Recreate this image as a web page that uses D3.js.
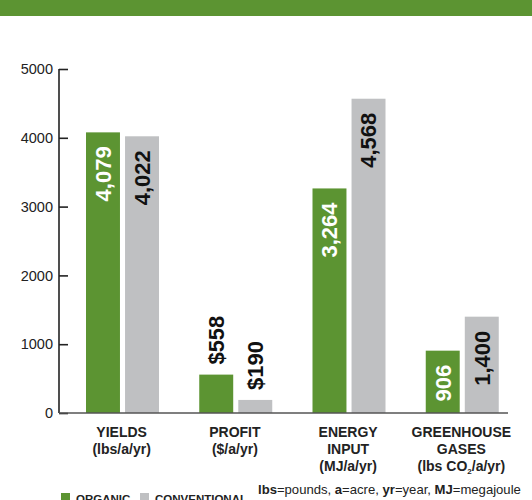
<!DOCTYPE html>
<html>
<head>
<meta charset="utf-8">
<title>Organic vs conventional</title>
<script src="https://d3js.org/d3.v7.min.js"></script>
<style>
  body { margin: 0; background: #fff; }
  svg { display: block; font-family: "Liberation Sans", Arial, sans-serif; }
</style>
</head>
<body>
<div id="chart"></div>
<script>
// data
const categories = ["YIELDS", "PROFIT", "ENERGY", "GREENHOUSE"];
const catLines = [
  ["YIELDS", "(lbs/a/yr)"],
  ["PROFIT", "($/a/yr)"],
  ["ENERGY", "INPUT", "(MJ/a/yr)"],
  ["GREENHOUSE", "GASES", "(lbs CO2/a/yr)"]
];
const series = ["ORGANIC", "CONVENTIONAL"];
const organic = [4079, 558, 3264, 906];
const conventional = [4022, 190, 4568, 1400];
const valueLabels = [
  ["4,079", "4,022"],
  ["$558", "$190"],
  ["3,264", "4,568"],
  ["906", "1,400"]
];
const yTicks = [0, 1000, 2000, 3000, 4000, 5000];

const green = "#5c9432", grey = "#bfc0c2";
const W = 532, H = 500;

const svg = d3.select("#chart").append("svg")
    .attr("width", W).attr("height", H);

// green band on top
svg.append("rect").attr("x", 0).attr("y", 0).attr("width", W).attr("height", 16).attr("fill", green);

const y = d3.scaleLinear().domain([0, 5000]).range([413, 69]);
const x0 = d3.scaleBand().domain(categories).range([66, 519]).padding(0);
const x1 = d3.scaleBand().domain(series).range([20, 93]).paddingInner(0.13);
const colour = d3.scaleOrdinal().domain(series).range([green, grey]);

const rows = categories.map((c, i) => ({
  cat: c,
  vals: [
    {s: "ORGANIC", v: organic[i], lab: valueLabels[i][0]},
    {s: "CONVENTIONAL", v: conventional[i], lab: valueLabels[i][1]}
  ]
}));

// bars
const grp = svg.selectAll("g.cat").data(rows).enter().append("g")
    .attr("class", "cat")
    .attr("transform", d => "translate(" + x0(d.cat) + ",0)");

grp.selectAll("rect").data(d => d.vals).enter().append("rect")
    .attr("x", d => x1(d.s))
    .attr("y", d => y(d.v))
    .attr("width", x1.bandwidth())
    .attr("height", d => y(0) - y(d.v))
    .attr("fill", d => colour(d.s));

// rotated value labels
grp.selectAll("text.val").data(d => d.vals).enter().append("text")
    .attr("class", "val")
    .attr("transform", d => {
      const cx = x1(d.s) + x1.bandwidth() / 2;
      const inside = d.v > 700;
      const ty = inside ? y(d.v) + 14 : y(d.v) - 10;
      return "translate(" + cx + "," + ty + ") rotate(-90)";
    })
    .attr("dy", "0.36em")
    .attr("text-anchor", d => d.v > 700 ? "end" : "start")
    .attr("font-size", "22px")
    .attr("font-weight", "bold")
    .attr("fill", d => (d.v > 700 && d.s === "ORGANIC") ? "#fff" : "#111")
    .text(d => d.lab);

// y axis
const yAxis = d3.axisRight(y).tickValues(yTicks).tickSize(9).tickFormat(d3.format("d"));
const ya = svg.append("g").attr("transform", "translate(59,0)").call(yAxis);
ya.select(".domain").attr("d", "M0," + y(5000) + "V" + y(0)).attr("stroke", "#222").attr("stroke-width", 1.6);
ya.selectAll(".tick line").attr("stroke", "#222").attr("stroke-width", 1.6);
ya.selectAll(".tick text")
    .attr("x", -6).attr("text-anchor", "end")
    .attr("font-family", "'Liberation Sans', Arial, sans-serif")
    .attr("font-size", "14.5px").attr("fill", "#222");

// baseline
svg.append("line").attr("x1", 59).attr("x2", 508).attr("y1", y(0)).attr("y2", y(0))
    .attr("stroke", "#555").attr("stroke-width", 1.4);

// category labels
const catText = svg.selectAll("text.cat").data(catLines).enter().append("text")
    .attr("class", "cat")
    .attr("text-anchor", "middle")
    .attr("font-size", "14px")
    .attr("font-weight", "bold")
    .attr("fill", "#222");
catText.each(function(lines, i) {
  const t = d3.select(this);
  const cx = x0(categories[i]) + x0.bandwidth() / 2 - 1;
  lines.forEach((ln, j) => {
    const sp = t.append("tspan").attr("x", cx).attr("y", 437 + j * 16.8);
    if (ln.indexOf("CO2") >= 0) {
      sp.append("tspan").text("(lbs CO");
      sp.append("tspan").attr("font-size", "8px").attr("dy", 3).text("2");
      sp.append("tspan").attr("dy", -3).text("/a/yr)");
    } else {
      sp.text(ln);
    }
  });
});

// footnote
const note = svg.append("text").attr("x", 258).attr("y", 494)
    .attr("font-size", "13.1px").attr("fill", "#222");
[["lbs", true], ["=pounds, ", false], ["a", true], ["=acre, ", false],
 ["yr", true], ["=year, ", false], ["MJ", true], ["=megajoule", false]]
  .forEach(p => note.append("tspan").attr("font-weight", p[1] ? "bold" : "normal").text(p[0]));

// legend
const lg = svg.selectAll("g.leg").data(series).enter().append("g")
    .attr("class", "leg")
    .attr("transform", (d, i) => "translate(" + [61, 140][i] + ",493)");
lg.append("rect").attr("width", 9).attr("height", 9).attr("fill", d => colour(d));
lg.append("text").attr("x", 15).attr("y", 9.5)
    .attr("font-size", "11.5px").attr("font-weight", "bold").attr("fill", "#222")
    .text(d => d);
</script>
</body>
</html>
